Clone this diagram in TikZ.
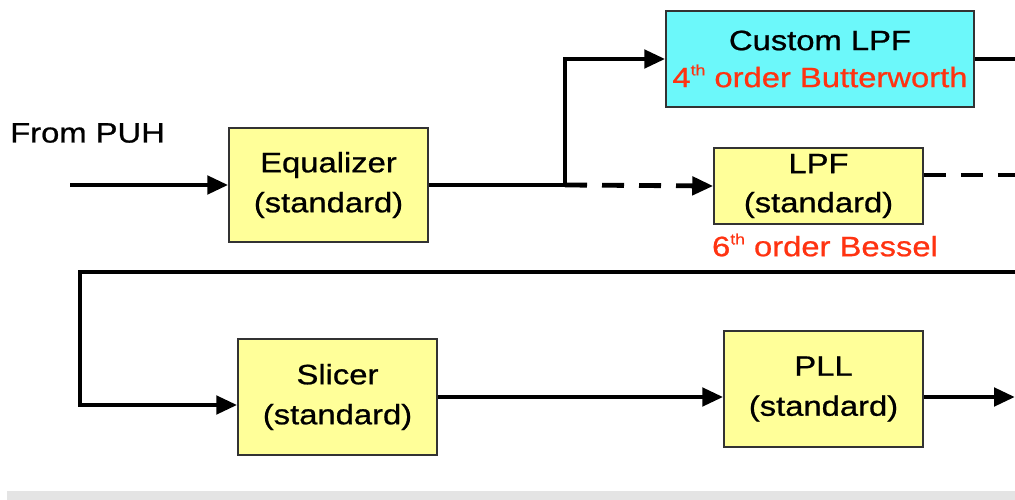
\documentclass[tikz,border=0pt]{standalone}
\usepackage{fontspec}
\setmainfont[FakeStretch=1.17,FakeBold=0.8]{Liberation Sans}
\usetikzlibrary{arrows.meta,calc}
\definecolor{boxyellow}{HTML}{FFFF99}
\definecolor{boxcyan}{HTML}{6CF8FA}
\definecolor{txtred}{HTML}{FF3311}
\definecolor{band}{HTML}{E4E4E4}
\definecolor{edge}{HTML}{333333}
\newcommand{\ordsup}[1]{\raisebox{0.42em}{\fontsize{15}{15}\selectfont #1}}
\begin{document}
\begin{tikzpicture}[x=1pt,y=-1pt,
  blk/.style={draw=edge,line width=1.5pt,fill=boxyellow,align=center,inner sep=0pt,
    font=\fontsize{28}{40}\selectfont},
  lbl/.style={inner sep=0pt,font=\fontsize{28}{40}\selectfont},
  wire/.style={line width=4.8pt},
  arr/.style={wire,-{Triangle[length=21pt,width=18pt]}},
  dsh/.style={dash pattern=on 22pt off 15pt}]
\useasboundingbox (0,0) rectangle (1015,500);
\fill[band] (7,491) rectangle (1015,500);

\node[blk,minimum width=199pt,minimum height=114pt] (eq) at (328.5,185) {Equalizer\\(standard)};
\node[blk,fill=boxcyan,minimum width=308pt,minimum height=96pt] (clpf) at (820,59)
  {Custom LPF\\[-3pt]\textcolor{txtred}{4\ordsup{th} order Butterworth}};
\node[blk,minimum width=209pt,minimum height=76pt] (lpf) at (818.5,186) {LPF\\[-1pt](standard)};
\node[lbl,text=txtred] (bessel) at (825,245) {6\ordsup{th} order Bessel};
\node[blk,minimum width=199pt,minimum height=116pt] (slicer) at (337.5,397) {Slicer\\(standard)};
\node[blk,minimum width=199pt,minimum height=116pt] (pll) at (823.5,389) {PLL\\(standard)};
\node[lbl,anchor=west] (puh) at (10,133) {From PUH};

\coordinate (in) at (70,185);
\coordinate (j) at (565,185);
\coordinate (clpfend) at (1015,59);
\coordinate (lpfend) at (1015,175);
\coordinate (r1) at (1015,272);
\coordinate (l1) at (80,272);
\coordinate (pllend) at (1015,397);

\draw[arr] (in) -- (eq.west);
\draw[wire] (eq.east) -- (j);
\draw[arr] ([yshift=2pt]j) |- (clpf.west);
\draw[arr,dsh] (j) -- (lpf.west);
\draw[wire] (clpf.east) -- (clpfend);
\draw[wire,dsh] ([yshift=11pt]lpf.east) -- (lpfend);
\draw[arr] (r1) -- (l1) |- ([yshift=-8pt]slicer.west);
\draw[arr] (slicer.east) -- (slicer.east -| pll.west);
\draw[arr] ([yshift=-8pt]pll.east) -- (pllend);
\end{tikzpicture}
\end{document}
